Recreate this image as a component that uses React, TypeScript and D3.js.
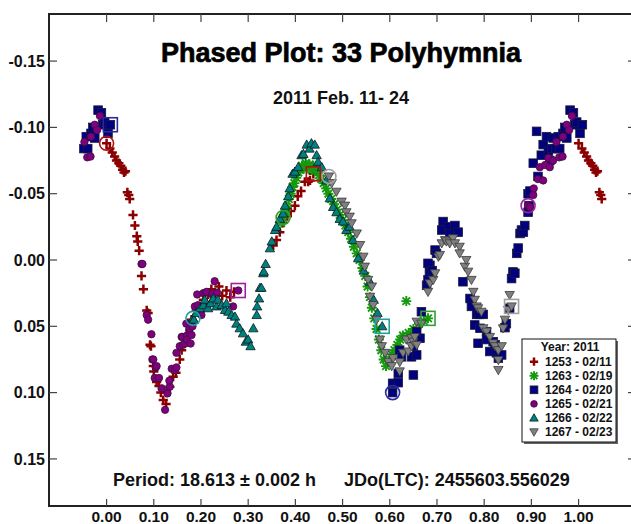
import React from "react";
import * as d3 from "d3";

// ---- data: [phase, magnitude] per session (phases 0..1) ----
const S1253: [number, number][] = [
  [0.000,-0.088],[0.007,-0.084],[0.012,-0.081],[0.017,-0.078],[0.021,-0.075],[0.026,-0.073],[0.030,-0.071],[0.034,-0.068],[0.037,-0.066],[0.040,-0.067],
  [0.044,-0.051],[0.047,-0.049],[0.049,-0.046],[0.056,-0.034],[0.060,-0.026],[0.064,-0.018],[0.066,-0.014],[0.069,-0.007],[0.074,0.012],[0.078,0.022],
  [0.085,0.038],[0.088,0.040],[0.092,0.064],[0.094,0.065],[0.099,0.080],[0.100,0.084],[0.106,0.092],[0.111,0.095],[0.115,0.100],[0.120,0.1056],
  [0.126,0.1086],[0.127,0.100],[0.134,0.0955],[0.141,0.088],[0.147,0.085],[0.155,0.075],[0.159,0.068],[0.170,0.058],[0.180,0.045],[0.190,0.038],
  [0.205,0.030],[0.215,0.026],[0.222,0.022],[0.230,0.025],[0.238,0.020],[0.245,0.027],[0.254,0.023],[0.262,0.028],[0.270,0.024],[0.353,-0.011],
  [0.360,-0.015],[0.367,-0.021],[0.374,-0.028],[0.383,-0.033],[0.390,-0.037],[0.399,-0.041],[0.405,-0.048],[0.412,-0.052],[0.420,-0.059],[0.427,-0.059],
  [0.431,-0.060],[0.438,-0.065],
];
const S1263: [number, number][] = [
  [0.374,-0.032],[0.370,-0.028],[0.378,-0.036],[0.382,-0.040],[0.386,-0.046],[0.390,-0.050],[0.394,-0.055],[0.398,-0.058],[0.402,-0.062],[0.406,-0.066],
  [0.410,-0.068],[0.414,-0.071],[0.418,-0.069],[0.422,-0.073],[0.426,-0.070],[0.430,-0.072],[0.434,-0.068],[0.438,-0.071],[0.442,-0.067],[0.446,-0.069],
  [0.450,-0.064],[0.455,-0.061],[0.460,-0.058],[0.465,-0.054],[0.470,-0.050],[0.476,-0.046],[0.482,-0.042],[0.488,-0.038],[0.494,-0.034],[0.500,-0.030],
  [0.506,-0.026],[0.512,-0.021],[0.518,-0.016],[0.524,-0.010],[0.530,-0.005],[0.536,0.000],[0.542,0.006],[0.548,0.012],[0.553,0.020],[0.558,0.028],
  [0.562,0.036],[0.567,0.044],[0.572,0.052],[0.577,0.060],[0.582,0.068],[0.587,0.075],[0.592,0.080],[0.598,0.076],[0.604,0.071],[0.610,0.068],
  [0.616,0.064],[0.622,0.060],[0.628,0.057],[0.635,0.031],[0.640,0.055],[0.650,0.052],[0.662,0.048],[0.672,0.046],[0.681,0.044],
];
const S1264: [number, number][] = [
  [0.606,0.100],[0.606,0.093],[0.618,0.0925],[0.618,0.0855],[0.621,0.068],[0.625,0.073],[0.646,0.073],[0.650,0.0867],[0.650,0.065],[0.657,0.0716],
  [0.664,0.059],[0.657,0.054],[0.667,0.039],[0.678,0.019],[0.681,0.015],[0.684,0.009],[0.685,0.004],[0.681,0.0025],[0.690,0.008],[0.696,-0.0075],
  [0.699,-0.005],[0.710,-0.0226],[0.713,-0.029],[0.724,-0.025],[0.727,-0.020],[0.738,-0.026],[0.745,-0.021],[0.755,0.0164],[0.770,0.029],[0.773,0.035],
  [0.780,0.049],[0.784,0.041],[0.787,0.0628],[0.790,0.041],[0.791,0.0515],[0.798,0.041],[0.805,0.054],[0.805,0.060],[0.812,0.069],[0.819,0.0616],
  [0.823,0.064],[0.826,0.070],[0.830,0.074],[0.837,0.0716],[0.844,0.051],[0.847,0.048],[0.854,0.0364],[0.858,0.014],[0.861,0.009],[0.865,0.010],
  [0.869,-0.005],[0.872,-0.009],[0.876,-0.020],[0.879,-0.0226],[0.883,-0.021],[0.886,-0.026],[0.893,-0.036],[0.895,-0.041],[0.893,-0.050],[0.897,-0.052],
  [0.904,-0.073],[0.911,-0.097],[0.914,-0.063],[0.921,-0.079],[0.925,-0.087],[0.932,-0.093],[0.936,-0.082],[0.939,-0.075],[0.943,-0.084],[0.946,-0.092],
  [0.952,-0.084],[0.957,-0.093],[0.960,-0.084],[0.967,-0.0955],[0.971,-0.100],[0.975,-0.092],[0.982,-0.113],[0.989,-0.111],[0.992,-0.102],[0.996,-0.104],
  [0.003,-0.0955],[0.008,-0.102],
];
const S1265: [number, number][] = [
  [0.893,-0.041],[0.897,-0.040],[0.904,-0.049],[0.905,-0.054],[0.914,-0.061],[0.925,-0.060],[0.918,-0.070],[0.929,-0.0716],[0.939,-0.070],[0.936,-0.077],
  [0.946,-0.075],[0.953,-0.089],[0.959,-0.0774],[0.966,-0.078],[0.967,-0.093],[0.975,-0.102],[0.980,-0.098],[0.986,-0.1086],[0.074,0.003],[0.076,0.003],
  [0.085,0.0415],[0.088,0.045],[0.095,0.056],[0.097,0.075],[0.099,0.075],[0.102,0.089],[0.104,0.081],[0.106,0.080],[0.111,0.089],[0.117,0.0968],
  [0.124,0.113],[0.129,0.1006],[0.134,0.0955],[0.133,0.091],[0.138,0.082],[0.145,0.083],[0.148,0.081],[0.148,0.070],[0.155,0.065],[0.159,0.058],
  [0.161,0.058],[0.162,0.064],[0.166,0.063],[0.169,0.048],[0.170,0.057],[0.170,0.060],[0.175,0.053],[0.176,0.0515],[0.178,0.063],[0.180,0.0566],
  [0.182,0.050],[0.187,0.035],[0.192,0.026],[0.194,0.034],[0.201,0.0415],[0.205,0.025],[0.210,0.0246],[0.212,0.024],[0.213,0.034],[0.224,0.026],
  [0.225,0.025],[0.229,0.016],[0.234,0.0246],[0.268,0.035],[0.279,0.023],
];
const S1266: [number, number][] = [
  [0.183,0.044],[0.185,0.045],[0.190,0.040],[0.198,0.0364],[0.205,0.034],[0.208,0.030],[0.215,0.0364],[0.220,0.0327],[0.226,0.029],[0.233,0.035],
  [0.236,0.030],[0.244,0.034],[0.251,0.0377],[0.254,0.0327],[0.258,0.039],[0.265,0.0415],[0.272,0.0427],[0.275,0.048],[0.282,0.0515],[0.289,0.0553],
  [0.295,0.0616],[0.300,0.060],[0.305,0.065],[0.311,0.0515],[0.318,0.0415],[0.319,0.035],[0.323,0.029],[0.325,0.021],[0.328,0.021],[0.332,0.010],
  [0.333,0.0088],[0.337,0.003],[0.346,-0.0088],[0.350,-0.014],[0.357,-0.0226],[0.360,-0.025],[0.367,-0.031],[0.374,-0.035],[0.378,-0.041],[0.385,-0.048],
  [0.388,-0.054],[0.394,-0.065],[0.399,-0.0666],[0.406,-0.070],[0.413,-0.079],[0.417,-0.080],[0.424,-0.087],[0.430,-0.084],[0.434,-0.088],[0.441,-0.087],
  [0.445,-0.079],[0.448,-0.074],[0.456,-0.070],[0.466,-0.060],[0.473,-0.0465],[0.480,-0.040],[0.487,-0.036],[0.494,-0.031],[0.501,-0.029],[0.508,-0.0226],
  [0.515,-0.025],[0.522,-0.015],[0.533,-0.0013],[0.545,0.008],[0.558,0.0164],[0.566,0.030],[0.574,0.040],[0.584,0.050],
];
const S1267: [number, number][] = [
  [0.471,-0.063],[0.477,-0.058],[0.487,-0.0515],[0.498,-0.044],[0.505,-0.041],[0.508,-0.036],[0.515,-0.0327],[0.519,-0.0277],[0.530,-0.020],[0.537,-0.0113],
  [0.544,-0.0025],[0.547,0.005],[0.554,0.015],[0.558,0.0277],[0.562,0.020],[0.565,0.034],[0.572,0.045],[0.579,0.060],[0.583,0.065],[0.590,0.070],
  [0.597,0.0767],[0.604,0.080],[0.607,0.074],[0.621,0.084],[0.621,0.077],[0.628,0.070],[0.635,0.060],[0.639,0.069],[0.646,0.065],[0.646,0.059],
  [0.650,0.0616],[0.653,0.058],[0.657,0.064],[0.657,0.0465],[0.667,0.048],[0.681,0.024],[0.685,0.0176],[0.692,0.015],[0.696,0.010],[0.703,-0.0025],
  [0.706,-0.0038],[0.710,-0.0126],[0.717,-0.015],[0.720,-0.014],[0.727,-0.0126],[0.734,-0.0164],[0.738,-0.0126],[0.748,-0.010],[0.748,-0.005],[0.759,0.005],
  [0.762,0.000],[0.766,0.0088],[0.773,0.015],[0.777,0.024],[0.780,0.030],[0.784,0.035],[0.787,0.0364],[0.794,0.039],[0.798,0.0515],[0.805,0.054],
  [0.812,0.058],[0.819,0.0628],[0.823,0.065],[0.830,0.068],[0.837,0.065],[0.830,0.0754],[0.830,0.083],[0.840,0.0515],[0.844,0.045],[0.851,0.0377],
  [0.854,0.0264],[0.858,0.035],
];

const SESSIONS = ["1253 - 02/11", "1263 - 02/19", "1264 - 02/20", "1265 - 02/21", "1266 - 02/22", "1267 - 02/23"];
const X_TICKS = [0, 0.1, 0.2, 0.3, 0.4, 0.5, 0.6, 0.7, 0.8, 0.9, 1.0];
const Y_TICKS = [-0.15, -0.1, -0.05, 0, 0.05, 0.1, 0.15];

const TITLE = "Phased Plot: 33 Polyhymnia";
const SUBTITLE = "2011 Feb. 11- 24";
const PERIOD_TEXT = "Period: 18.613 ± 0.002 h";
const EPOCH_TEXT = "JDo(LTC): 2455603.556029";
const LEGEND_TITLE = "Year: 2011";

type Kind = "plus" | "star" | "square" | "circle" | "tri" | "itri";
const SERIES: { data: [number, number][]; kind: Kind; fill: string; stroke: string; open: string }[] = [
  { data: S1253, kind: "plus", fill: "#8b0000", stroke: "#8b0000", open: "#b01010" },
  { data: S1263, kind: "star", fill: "#14990f", stroke: "#14990f", open: "#30a030" },
  { data: S1264, kind: "square", fill: "#000080", stroke: "#1a1a3a", open: "#2a2aa0" },
  { data: S1265, kind: "circle", fill: "#800080", stroke: "#3a103a", open: "#a020a0" },
  { data: S1266, kind: "tri", fill: "#008080", stroke: "#0a1a1a", open: "#20a0a0" },
  { data: S1267, kind: "itri", fill: "#808080", stroke: "#3a3a3a", open: "#a0a0a0" },
];

const FONT = "'Liberation Sans', Arial, Helvetica, sans-serif";
const fmt = (t: number) => (Math.abs(t) < 1e-9 ? 0 : t).toFixed(2);

function Marker({ kind, cx, cy, fill, stroke, s = 1 }: { kind: Kind; cx: number; cy: number; fill: string; stroke: string; s?: number }) {
  if (kind === "plus") {
    const a = 4.6 * s;
    return <path d={`M${cx - a},${cy}H${cx + a}M${cx},${cy - a}V${cy + a}`} stroke={fill} strokeWidth={2.5} fill="none" />;
  }
  if (kind === "star") {
    const a = 5 * s, b = 3.8 * s;
    return (
      <path
        d={`M${cx - a},${cy}H${cx + a}M${cx},${cy - a}V${cy + a}M${cx - b},${cy - b}L${cx + b},${cy + b}M${cx - b},${cy + b}L${cx + b},${cy - b}`}
        stroke={fill}
        strokeWidth={1.9}
        fill="none"
      />
    );
  }
  if (kind === "square") {
    const a = 4.3 * s;
    return <rect x={cx - a} y={cy - a} width={2 * a} height={2 * a} fill={fill} stroke={stroke} strokeWidth={0.8} />;
  }
  if (kind === "circle") {
    return <circle cx={cx} cy={cy} r={3.7 * s} fill={fill} stroke={stroke} strokeWidth={0.8} />;
  }
  const h = 4.7 * s;
  const w = 4.7 * s;
  if (kind === "tri") {
    return <path d={`M${cx},${cy - h}L${cx + w},${cy + h * 0.75}L${cx - w},${cy + h * 0.75}Z`} fill={fill} stroke={stroke} strokeWidth={0.8} />;
  }
  return <path d={`M${cx},${cy + h}L${cx + w},${cy - h * 0.75}L${cx - w},${cy - h * 0.75}Z`} fill={fill} stroke={stroke} strokeWidth={0.8} />;
}

export default function App() {
  const W = 631, H = 524;
  const x = d3.scaleLinear().domain([-0.122, 1.12]).range([49, 49 + 1.242 * 472]);
  const y = d3.scaleLinear().domain([-0.1855, 0.1855]).range([14, 506]);
  const x0 = 49, x1 = 636, y0 = 14, y1 = 506;

  const pts = (data: [number, number][]) => {
    const out: [number, number][] = [];
    data.forEach(([p, m]) => {
      out.push([p, m]);
      if (p < 0.05) out.push([p + 1, m]);
      if (p > 0.95) out.push([p - 1, m]);
    });
    return out;
  };

  return (
    <svg width={W} height={H} style={{ position: "absolute", left: 0, top: 0, background: "#fff" }} fontFamily={FONT}>
      <rect x={0} y={0} width={W} height={H} fill="#fff" />
      {SERIES.map((s, i) => (
        <g key={i}>
          {pts(s.data).map(([p, m], j) => (
            <Marker key={j} kind={s.kind} cx={x(p)} cy={y(m)} fill={s.fill} stroke={s.stroke} />
          ))}
        </g>
      ))}
      {SERIES.map((s, i) => {
        const a = s.data[0];
        const b = s.data[s.data.length - 1];
        return (
          <g key={"o" + i} fill="none" stroke={s.open} strokeWidth={1.6}>
            <circle cx={x(a[0])} cy={y(a[1])} r={7} />
            <rect x={x(b[0]) - 7} y={y(b[1]) - 7} width={14} height={14} />
          </g>
        );
      })}
      <rect x={x0} y={y0} width={x1 - x0} height={y1 - y0} fill="none" stroke="#222" strokeWidth={2} />
      {X_TICKS.map((t) => (
        <g key={"x" + t}>
          <line x1={x(t)} x2={x(t)} y1={y1} y2={y1 - 7} stroke="#444" strokeWidth={1.2} />
          <line x1={x(t)} x2={x(t)} y1={y0} y2={y0 + 8} stroke="#444" strokeWidth={1.2} />
          <text x={x(t)} y={522} textAnchor="middle" fontSize={15.5} fontWeight="bold" fill="#111">
            {fmt(t)}
          </text>
        </g>
      ))}
      {Y_TICKS.map((t) => (
        <g key={"y" + t}>
          <line x1={x0} x2={x0 + 8} y1={y(t)} y2={y(t)} stroke="#444" strokeWidth={1.2} />
          <line x1={x1 - 8} x2={x1} y1={y(t)} y2={y(t)} stroke="#444" strokeWidth={1.2} />
          <text x={45} y={y(t)} dy="0.36em" textAnchor="end" fontSize={16} fontWeight="bold" fill="#111">
            {fmt(t)}
          </text>
        </g>
      ))}
      <text x={341} y={62} textAnchor="middle" fontSize={27} fontWeight="bold" fill="#000" stroke="#000" strokeWidth={0.7}>
        {TITLE}
      </text>
      <text x={341} y={104} textAnchor="middle" fontSize={18} fontWeight="bold" fill="#111">
        {SUBTITLE}
      </text>
      <text x={113} y={486} fontSize={18} fontWeight="bold" fill="#111">
        {PERIOD_TEXT}
      </text>
      <text x={344} y={486} fontSize={18} fontWeight="bold" fill="#111">
        {EPOCH_TEXT}
      </text>
      <g>
        <rect x={524} y={341} width={94} height={103} fill="#666" />
        <rect x={522} y={339} width={94} height={103} fill="#fff" stroke="#111" strokeWidth={1} />
        <text x={570} y={351} textAnchor="middle" fontSize={12} fontWeight="bold" fill="#111">
          {LEGEND_TITLE}
        </text>
        {SERIES.map((s, i) => {
          const cy = 361.7 + i * 14.06;
          return (
            <g key={"l" + i}>
              <Marker kind={s.kind} cx={534} cy={cy} fill={s.fill} stroke={s.stroke} s={0.9} />
              <text x={545} y={cy + 4.3} fontSize={12} fontWeight="bold" fill="#111">
                {SESSIONS[i]}
              </text>
            </g>
          );
        })}
      </g>
    </svg>
  );
}
